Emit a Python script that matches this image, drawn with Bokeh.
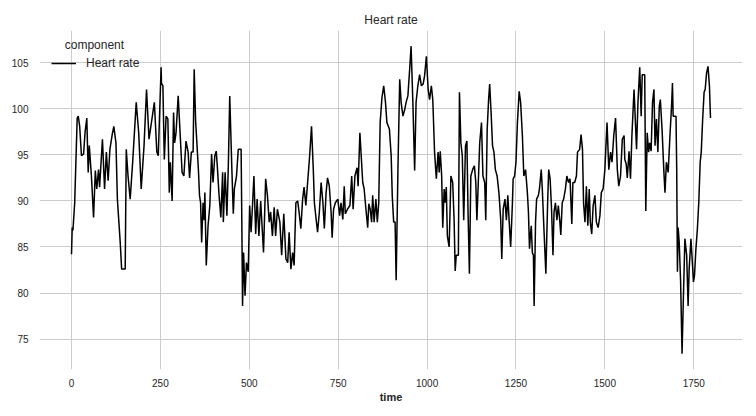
from bokeh.plotting import figure
from bokeh.models import Range1d, Legend, LegendItem, Label, FixedTicker, ColumnDataSource
from bokeh.embed import file_html
from bokeh.resources import INLINE

# ---- data ----
time = [0, 2, 4, 9, 16, 19, 23, 28, 34, 38, 43, 45, 47, 50, 56, 62, 67, 71, 76, 79,
        87, 93, 98, 103, 108, 114, 119, 125, 129, 137, 141, 151, 154, 159, 165, 172, 182, 189, 196, 204,
        211, 218, 233, 240, 244, 252, 253, 257, 261, 266, 271, 275, 278, 283, 287, 290, 294, 300, 303, 311,
        316, 322, 328, 332, 337, 342, 345, 349, 352, 357, 360, 363, 366, 370, 373, 375, 379, 384, 389, 394,
        398, 403, 407, 410, 415, 420, 425, 427, 432, 437, 441, 445, 451, 455, 458, 464, 469, 477, 479, 481,
        484, 488, 492, 497, 501, 505, 509, 513, 518, 522, 527, 532, 540, 546, 551, 556, 560, 565, 570, 574,
        579, 586, 591, 597, 603, 608, 612, 617, 622, 626, 631, 636, 640, 645, 650, 654, 659, 664, 669, 675,
        680, 683, 688, 692, 697, 702, 707, 711, 716, 720, 725, 730, 733, 737, 742, 749, 754, 758, 763, 767,
        770, 776, 783, 788, 792, 797, 803, 806, 811, 814, 819, 823, 828, 833, 836, 840, 844, 847, 851, 856,
        860, 864, 868, 873, 878, 883, 887, 894, 899, 902, 906, 910, 913, 918, 923, 927, 932, 937, 941, 946,
        951, 955, 960, 965, 969, 974, 979, 984, 989, 993, 998, 1003, 1007, 1012, 1016, 1021, 1026, 1031, 1034, 1037,
        1041, 1044, 1048, 1051, 1054, 1057, 1062, 1067, 1072, 1076, 1079, 1082, 1088, 1091, 1095, 1099, 1103, 1108, 1112, 1115,
        1119, 1123, 1128, 1133, 1137, 1140, 1144, 1148, 1153, 1157, 1162, 1165, 1169, 1173, 1176, 1180, 1184, 1188, 1192, 1197,
        1202, 1207, 1210, 1214, 1219, 1223, 1227, 1231, 1235, 1240, 1242, 1246, 1250, 1254, 1259, 1263, 1268, 1272, 1277, 1282,
        1285, 1288, 1291, 1293, 1296, 1299, 1301, 1305, 1308, 1313, 1316, 1321, 1324, 1329, 1334, 1339, 1342, 1346, 1350, 1354,
        1357, 1361, 1365, 1369, 1373, 1376, 1380, 1384, 1389, 1393, 1398, 1402, 1407, 1410, 1415, 1420, 1423, 1429, 1433, 1437,
        1440, 1444, 1448, 1452, 1456, 1459, 1463, 1467, 1472, 1476, 1481, 1486, 1490, 1495, 1500, 1503, 1506, 1511, 1516, 1520,
        1525, 1530, 1535, 1539, 1544, 1549, 1554, 1556, 1560, 1563, 1568, 1572, 1576, 1582, 1589, 1593, 1598, 1602, 1605, 1612,
        1615, 1619, 1623, 1626, 1630, 1634, 1638, 1641, 1645, 1649, 1653, 1656, 1661, 1666, 1669, 1673, 1678, 1683, 1688, 1690,
        1692, 1700, 1702, 1704, 1706, 1709, 1713, 1717, 1720, 1725, 1730, 1734, 1737, 1742, 1746, 1749, 1752, 1756, 1760, 1764,
        1768, 1771, 1775, 1779, 1782, 1786, 1790, 1794, 1797]

heart_rate = [84.2, 87.1, 86.8, 89.8, 99.0, 99.2, 98.1, 94.9, 95.1, 97.4, 99.0, 96.0, 93.1, 96.0, 92.7, 88.2, 93.3, 91.3, 93.4, 91.5,
              96.7, 91.3, 95.3, 92.2, 95.6, 97.1, 98.1, 96.3, 90.2, 85.5, 82.6, 82.6, 95.6, 92.7, 90.2, 94.2, 100.7, 97.4, 91.3, 96.0,
              102.1, 96.7, 100.7, 95.3, 94.9, 104.5, 102.8, 102.5, 94.5, 99.2, 98.9, 90.9, 94.2, 90.0, 99.6, 96.3, 97.4, 101.4, 99.2, 93.1,
              92.7, 96.5, 95.3, 92.5, 95.3, 95.3, 104.3, 98.7, 96.7, 93.3, 90.6, 89.8, 85.5, 89.8, 87.9, 90.9, 83.0, 87.3, 89.5, 95.1,
              92.0, 94.9, 95.4, 93.8, 90.6, 88.2, 93.1, 87.7, 93.1, 88.4, 93.8, 101.4, 93.4, 88.6, 91.3, 92.7, 95.6, 95.6, 87.7, 78.6,
              84.4, 79.7, 83.3, 82.3, 89.5, 86.6, 89.5, 92.7, 86.4, 90.2, 86.2, 90.0, 84.4, 92.4, 90.6, 87.7, 88.8, 86.2, 89.3, 86.2,
              89.1, 87.7, 84.1, 88.6, 83.7, 83.3, 86.6, 82.6, 84.4, 83.0, 89.8, 90.0, 88.8, 87.0, 90.2, 91.5, 89.5, 92.0, 94.5, 98.1,
              93.4, 89.8, 88.0, 86.6, 88.8, 92.0, 89.8, 87.0, 90.9, 92.5, 91.6, 88.8, 86.0, 89.1, 89.8, 90.2, 88.4, 89.8, 88.0, 91.6,
              88.6, 89.1, 89.5, 92.7, 89.1, 92.7, 93.6, 91.6, 97.4, 95.4, 92.0, 91.3, 89.1, 87.1, 89.7, 89.1, 87.7, 90.6, 87.7, 90.2,
              87.7, 89.8, 98.5, 101.2, 102.5, 100.7, 98.5, 97.8, 94.9, 90.6, 87.7, 87.7, 81.4, 93.4, 103.2, 100.7, 99.2, 99.9, 100.7, 101.4,
              104.3, 106.8, 100.7, 93.3, 100.7, 102.5, 103.7, 102.5, 102.7, 103.6, 105.7, 102.1, 101.0, 102.5, 101.0, 95.3, 92.4, 95.3, 93.1, 95.4,
              92.7, 87.1, 91.3, 89.8, 91.5, 86.2, 85.0, 92.7, 92.0, 87.9, 82.4, 84.1, 84.1, 101.8, 96.3, 94.9, 87.9, 96.0, 96.5, 89.1,
              82.1, 92.7, 93.4, 93.8, 92.0, 87.9, 92.0, 96.3, 98.5, 92.7, 92.0, 87.9, 97.8, 101.0, 102.7, 99.6, 96.0, 95.3, 93.4, 92.7,
              90.9, 88.0, 83.7, 89.1, 90.2, 87.9, 90.6, 87.7, 85.0, 89.8, 92.4, 92.7, 94.2, 98.5, 101.9, 100.7, 97.1, 92.7, 93.4, 90.9,
              88.8, 84.8, 86.5, 87.3, 84.4, 84.1, 78.6, 87.7, 90.2, 90.6, 91.3, 93.4, 91.3, 86.6, 82.1, 89.8, 93.4, 92.4, 89.1, 84.1,
              88.8, 89.8, 87.9, 89.5, 87.9, 86.3, 89.8, 90.2, 91.3, 92.7, 92.0, 92.4, 87.5, 92.0, 92.0, 92.7, 95.3, 95.6, 97.2, 95.6,
              89.8, 87.7, 91.6, 87.3, 91.3, 87.7, 86.4, 89.5, 90.6, 87.7, 87.1, 88.4, 90.9, 91.3, 93.4, 96.0, 98.5, 93.4, 95.3, 94.2,
              97.1, 99.0, 93.4, 91.6, 92.7, 96.7, 97.1, 94.5, 94.0, 92.5, 95.4, 92.4, 97.1, 102.1, 95.6, 100.7, 104.5, 99.2, 103.7, 103.7,
              88.9, 97.4, 95.3, 96.3, 95.4, 100.7, 102.1, 96.0, 98.9, 95.3, 100.3, 101.0, 97.6, 93.1, 90.9, 94.2, 93.1, 97.1, 100.7, 102.8,
              99.2, 99.2, 93.4, 82.3, 87.1, 85.5, 81.2, 73.4, 78.3, 85.9, 84.1, 78.6, 82.6, 85.9, 83.3, 81.2, 81.9, 84.8, 86.9, 89.8,
              94.2, 95.3, 98.9, 101.8, 102.1, 103.9, 104.6, 102.5, 99.0]

x_ticks = [0, 250, 500, 750, 1000, 1250, 1500, 1750]
y_ticks = [75, 80, 85, 90, 95, 100, 105]
series_name = "Heart rate"
legend_title = "component"

TEXT = "#262626"
FONT = "Liberation Sans"

source = ColumnDataSource(data=dict(time=time, hr=heart_rate))

p = figure(width=748, height=408, output_backend="svg", toolbar_location=None,
           x_range=Range1d(-90, 1887), y_range=Range1d(71.7, 108.5),
           min_border_left=39, min_border_right=6, min_border_top=30, min_border_bottom=39)

p.title.text = "Heart rate"
p.title.align = "center"
p.title.text_font = FONT
p.title.text_font_size = "12px"
p.title.text_font_style = "normal"
p.title.text_color = TEXT
p.title.standoff = 7

p.background_fill_color = "white"
p.border_fill_color = "white"
p.outline_line_color = None

for ax in (p.xaxis[0], p.yaxis[0]):
    ax.axis_line_color = None
    ax.major_tick_line_color = None
    ax.minor_tick_line_color = None
    ax.major_label_text_font = FONT
    ax.major_label_text_font_size = "10px"
    ax.major_label_text_color = TEXT

p.xaxis[0].ticker = FixedTicker(ticks=x_ticks)
p.yaxis[0].ticker = FixedTicker(ticks=y_ticks)
p.xaxis[0].major_label_standoff = 3
p.yaxis[0].major_label_standoff = 5
p.xaxis[0].axis_label = "time"
p.xaxis[0].axis_label_text_font = FONT
p.xaxis[0].axis_label_text_font_size = "11px"
p.xaxis[0].axis_label_text_font_style = "bold"
p.xaxis[0].axis_label_text_color = TEXT
p.xaxis[0].axis_label_standoff = 1

p.xgrid[0].grid_line_color = "#cccccc"
p.ygrid[0].grid_line_color = "#cccccc"
p.xgrid[0].ticker = FixedTicker(ticks=x_ticks)
p.ygrid[0].ticker = FixedTicker(ticks=y_ticks)

r = p.line("time", "hr", source=source, line_color="black", line_width=1.5)

legend = Legend(items=[LegendItem(label=series_name, renderers=[r])],
                location=(12, 296), margin=0, padding=0,
                glyph_width=25, glyph_height=20, label_standoff=10,
                label_text_font=FONT, label_text_font_size="12px", label_text_color=TEXT,
                border_line_color=None, background_fill_alpha=0)
p.add_layout(legend, "center")

p.add_layout(Label(x=-19, y=106.96, text=legend_title, text_baseline="middle", text_align="left",
                   text_font=FONT, text_font_size="12px", text_color=TEXT))

open("out.html", "w").write(file_html(p, INLINE))
